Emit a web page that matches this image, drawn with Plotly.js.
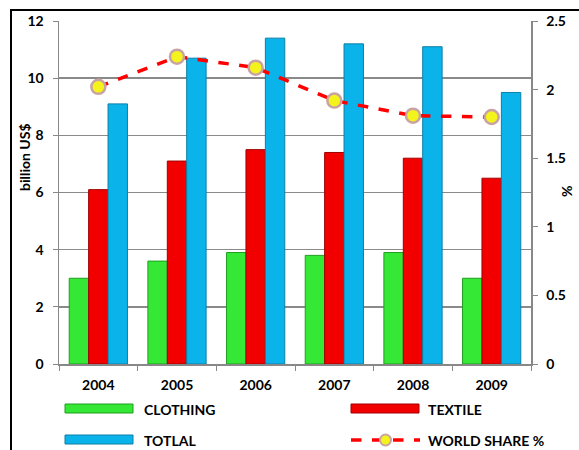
<!DOCTYPE html>
<html><head><meta charset="utf-8">
<script src="https://cdn.plot.ly/plotly-3.0.1.min.js"></script>
<style>
body{margin:0;padding:0;background:#fff;}
#chart{position:absolute;left:0;top:0;width:579px;height:450px;}
#frame{position:absolute;left:10px;top:9px;width:620px;height:520px;border:2px solid #000;pointer-events:none;}
</style></head>
<body>
<div id="chart"></div>
<div id="frame"></div>
<script>
const years = ['2004','2005','2006','2007','2008','2009'];
const clothing = [3.0, 3.6, 3.9, 3.8, 3.9, 3.0];
const textile = [6.1, 7.1, 7.5, 7.4, 7.2, 6.5];
const total = [9.1, 10.7, 11.4, 11.2, 11.1, 9.5];
const worldShare = [2.02, 2.24, 2.16, 1.92, 1.81, 1.80];
const seriesNames = ['CLOTHING', 'TEXTILE', 'TOTLAL', 'WORLD SHARE %'];
const leftTicks = [0, 2, 4, 6, 8, 10, 12];
const rightTicks = [0, 0.5, 1, 1.5, 2, 2.5];
const leftTitle = 'billion US$';
const rightTitle = '%';

const FONT = 'Lato, "Open Sans", sans-serif';
const TF = {family:FONT, size:14, color:'#000', weight:'bold'};
const cGreen = '#35e835', cRed = '#f20000', cBlue = '#0ab4ea';

const traces = [
  {type:'bar', x:years, y:clothing, name:seriesNames[0], marker:{color:cGreen, line:{color:'#1f9e1f', width:1}}},
  {type:'bar', x:years, y:textile, name:seriesNames[1], marker:{color:cRed, line:{color:'#a00000', width:1}}},
  {type:'bar', x:years, y:total, name:seriesNames[2], marker:{color:cBlue, line:{color:'#0a7fa8', width:1}}},
  {type:'scatter', mode:'lines+markers', x:years, y:worldShare, yaxis:'y2', name:seriesNames[3],
   line:{color:'#ff0000', width:3.5, dash:'dash'},
   marker:{size:14, color:'#f4f41c', line:{color:'#c9a3a3', width:2.5}}}
];

// pixel -> paper helpers for the custom legend and titles (plot area 59..531 x, 21..364 y)
const L=59, R=531, T=21, B=364;
const px = v => (v - L) / (R - L);
const py = v => (B - v) / (B - T);

const shapes = [
  {type:'rect', xref:'paper', yref:'paper', x0:px(65), x1:px(133), y0:py(413), y1:py(404), fillcolor:cGreen, line:{color:'#1f9e1f', width:1}},
  {type:'rect', xref:'paper', yref:'paper', x0:px(351), x1:px(419), y0:py(413), y1:py(404), fillcolor:cRed, line:{color:'#a00000', width:1}},
  {type:'rect', xref:'paper', yref:'paper', x0:px(65), x1:px(133), y0:py(444), y1:py(435), fillcolor:cBlue, line:{color:'#0a7fa8', width:1}},
  {type:'line', xref:'paper', yref:'paper', x0:px(351), x1:px(420), y0:py(440), y1:py(440), line:{color:'#ff0000', width:3.5, dash:'dash'}},
  {type:'circle', xref:'paper', yref:'paper', x0:px(380), x1:px(391), y0:py(445.5), y1:py(434.5), fillcolor:'#f4f41c', line:{color:'#c9a3a3', width:2}}
];

const annotations = [
  {xref:'paper', yref:'paper', x:px(142), y:py(409), text:seriesNames[0], showarrow:false, xanchor:'left', yanchor:'middle', font:TF},
  {xref:'paper', yref:'paper', x:px(426), y:py(409), text:seriesNames[1], showarrow:false, xanchor:'left', yanchor:'middle', font:TF},
  {xref:'paper', yref:'paper', x:px(142), y:py(440), text:seriesNames[2], showarrow:false, xanchor:'left', yanchor:'middle', font:TF},
  {xref:'paper', yref:'paper', x:px(426), y:py(440), text:seriesNames[3], showarrow:false, xanchor:'left', yanchor:'middle', font:TF},
  {xref:'paper', yref:'paper', x:px(25), y:py(157), text:leftTitle, textangle:-90, showarrow:false, xanchor:'center', yanchor:'middle', font:TF},
  {xref:'paper', yref:'paper', x:px(567), y:py(192), text:rightTitle, textangle:-90, showarrow:false, xanchor:'center', yanchor:'middle', font:TF}
];

const layout = {
  width:579, height:450,
  margin:{l:59, r:48, t:21, b:86},
  paper_bgcolor:'#fff', plot_bgcolor:'#fff',
  barmode:'group', bargap:0.26, bargroupgap:0,
  showlegend:false,
  font:TF,
  xaxis:{type:'category', tickson:'boundaries', ticks:'outside', ticklen:5, tickcolor:'#888',
         showline:true, linecolor:'#888', linewidth:1.5, showgrid:false,
         tickfont:TF, ticklabelstandoff:8},
  yaxis:{range:[0,12], tickvals:leftTicks, ticks:'outside', ticklen:5, tickcolor:'#888',
         showline:true, linecolor:'#888', linewidth:1.5, gridcolor:'#8a8a8a', gridwidth:1.5,
         zeroline:false, tickfont:TF, ticklabelstandoff:6},
  yaxis2:{range:[0,2.5], tickvals:rightTicks, overlaying:'y', side:'right', ticks:'outside', ticklen:5,
          tickcolor:'#888', showline:true, linecolor:'#888', linewidth:1.5, showgrid:false, zeroline:false,
          tickfont:TF, ticklabelstandoff:6},
  shapes:shapes, annotations:annotations
};

Plotly.newPlot('chart', traces, layout, {displayModeBar:false, staticPlot:true});
</script>
</body></html>
